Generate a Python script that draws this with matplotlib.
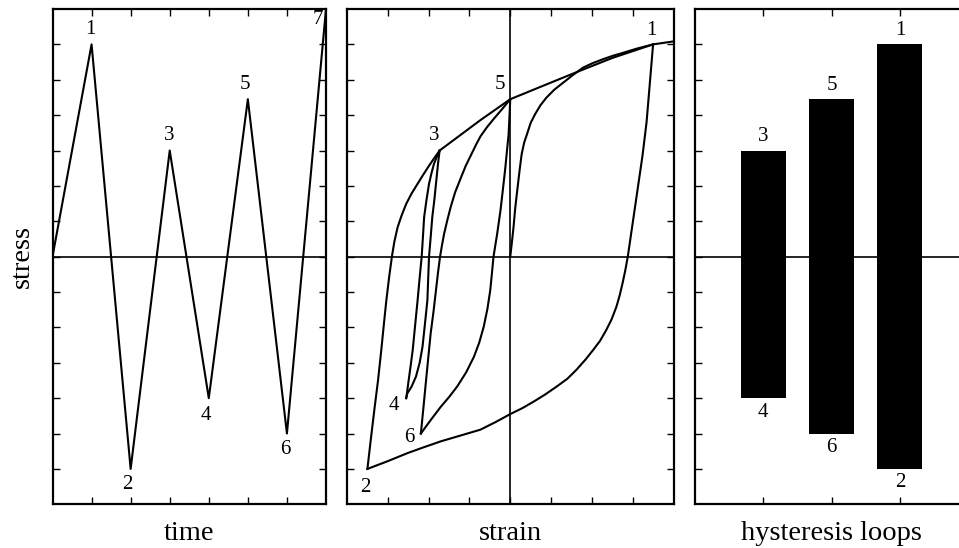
import matplotlib
matplotlib.use("Agg")
import matplotlib.pyplot as plt

plt.rcParams['font.family'] = ['Liberation Serif', 'DejaVu Serif']

# --- panel 1: stress history ---
time_pts = [0, 1, 2, 3, 4, 5, 6, 7]
stress_pts = [0, 6, -6, 3, -4, 4.45, -5, 7]
time_labels = ['', '1', '2', '3', '4', '5', '6', '7']

# --- panel 2: stress-strain branches ---
skel_strain = [0, 0.04, 0.08, 0.12, 0.18, 0.23, 0.28, 0.34, 0.41, 0.50, 0.61, 0.74, 0.89,
               1.08, 1.30, 1.52, 1.78, 2.02, 2.27, 2.52, 2.76, 3.10, 3.50, 3.98]
skel_stress = [0, 0.40, 0.83, 1.35, 1.96, 2.45, 2.90, 3.22, 3.46, 3.78, 4.03, 4.28, 4.50,
               4.72, 4.92, 5.12, 5.34, 5.47, 5.58, 5.68, 5.76, 5.88, 6.0, 6.08]

d12_strain = [3.50, 3.42, 3.34, 3.24, 3.12, 3.00, 2.88, 2.82, 2.75, 2.68, 2.60, 2.48, 2.35,
              2.20, 2.03, 1.85, 1.62, 1.40, 1.14, 0.85, 0.57, 0.30, 0.0, -0.35, -0.73,
              -1.20, -1.70, -2.10, -2.51, -3.00, -3.50]
d12_stress = [6.0, 4.9, 3.8, 2.85, 1.9, 0.95, 0.0, -0.38, -0.76, -1.10, -1.42, -1.78, -2.08,
              -2.38, -2.64, -2.90, -3.20, -3.45, -3.67, -3.90, -4.10, -4.28, -4.45, -4.67,
              -4.89, -5.05, -5.22, -5.38, -5.55, -5.78, -6.0]

a23_strain = [-3.50, -3.42, -3.33, -3.24, -3.16, -3.10, -3.04, -2.97, -2.90, -2.84, -2.76,
              -2.66, -2.55, -2.42, -2.27, -2.13, -1.99, -1.86, -1.73]
a23_stress = [-6.0, -5.2, -4.33, -3.5, -2.64, -1.95, -1.28, -0.6, 0.0, 0.42, 0.83,
              1.17, 1.49, 1.78, 2.06, 2.32, 2.57, 2.79, 3.0]

env_strain = [-1.73, -1.30, -0.73, 0.0, 0.89, 1.70, 2.51, 3.50]
env_stress = [3.0, 3.37, 3.86, 4.45, 4.87, 5.25, 5.62, 6.0]

d34_strain = [-1.73, -1.75, -1.77, -1.82, -1.86, -1.91, -1.95, -1.99, -2.01, -2.03, -2.09,
              -2.15, -2.22, -2.31, -2.42, -2.52, -2.55]
d34_stress = [3.0, 2.82, 2.62, 2.06, 1.6, 1.12, 0.55, 0.0, -0.6, -1.23, -1.9,
              -2.55, -3.0, -3.39, -3.68, -3.86, -4.0]

a43_strain = [-2.55, -2.53, -2.49, -2.44, -2.39, -2.33, -2.27, -2.22, -2.17, -2.14, -2.11,
              -2.05, -1.99, -1.93, -1.87, -1.80, -1.73]
a43_stress = [-4.0, -3.85, -3.5, -3.08, -2.64, -1.93, -1.23, -0.6, 0.0, 0.55, 1.12,
              1.62, 2.06, 2.36, 2.62, 2.82, 3.0]

d56_strain = [0.0, -0.02, -0.04, -0.08, -0.12, -0.18, -0.24, -0.32, -0.41, -0.45, -0.49,
              -0.56, -0.65, -0.76, -0.89, -1.08, -1.30, -1.50, -1.70, -1.95, -2.19]
d56_stress = [4.45, 3.95, 3.46, 3.0, 2.52, 1.9, 1.30, 0.65, 0.0, -0.48, -0.95,
              -1.48, -1.98, -2.43, -2.83, -3.27, -3.67, -3.97, -4.24, -4.62, -5.0]

a65_strain = [-2.19, -2.13, -2.07, -2.01, -1.95, -1.88, -1.82, -1.77, -1.72, -1.67, -1.62,
              -1.54, -1.46, -1.35, -1.22, -1.09, -0.95, -0.84, -0.73, -0.57, -0.40, -0.20, 0.0]
a65_stress = [-5.0, -4.3, -3.58, -2.87, -2.17, -1.55, -0.95, -0.45, 0.0, 0.34, 0.65,
              1.04, 1.40, 1.82, 2.20, 2.57, 2.90, 3.16, 3.40, 3.66, 3.90, 4.17, 4.45]

turn_strain = [3.50, -3.50, -1.73, -2.55, 0.0, -2.19]
turn_stress = [6.0, -6.0, 3.0, -4.0, 4.45, -5.0]
turn_labels = ['1', '2', '3', '4', '5', '6']

# --- panel 3: hysteresis loop ranges ---
loop_pos = [1, 2, 3]
loop_top = [3, 4.45, 6]
loop_bottom = [-4, -5, -6]
top_labels = ['3', '5', '1']
bottom_labels = ['4', '6', '2']

# label offsets in pixels (style, not data)
p1_offsets = [(0, 0), (-1, 15), (-3, -16), (-1, 15), (-3, -17), (-3, 15), (-2, -16), (-8, -11)]
p2_offsets = [(-2, 14), (-2, -19), (-5, 15), (-12, -7), (-10, 15), (-12, -4)]

LW = 1.5
NUM_SIZE = 15
LABEL_SIZE = 20.5


def style_axes(ax, xticks):
    ax.set_ylim(-7, 7)
    ax.set_yticks(range(-6, 7))
    ax.set_xticks(xticks)
    ax.tick_params(direction='in', top=True, right=True, length=5, width=1,
                   labelbottom=False, labelleft=False)
    for sp in ax.spines.values():
        sp.set_linewidth(1.6)
    ax.axhline(0, color='black', lw=1.2)


def label(ax, x, y, text, off):
    ax.annotate(text, (x, y), xytext=off, textcoords='offset pixels',
                ha='center', va='center', fontsize=NUM_SIZE)


def main():
    fig = plt.figure(figsize=(9.59, 5.48), dpi=100)
    bottom = 1 - 504.3 / 548
    height = (504.3 - 9) / 548

    # panel 1
    ax1 = fig.add_axes([52.5 / 959, bottom, 273.5 / 959, height])
    ax1.plot(time_pts, stress_pts, color='black', lw=LW)
    ax1.set_xlim(0, 7)
    style_axes(ax1, range(1, 7))
    for i in range(1, len(time_pts)):
        label(ax1, time_pts[i], stress_pts[i], time_labels[i], p1_offsets[i])
    ax1.set_xlabel('time', fontsize=LABEL_SIZE, labelpad=12)
    fig.text(22 / 959, 1 - 256 / 548, 'stress', rotation=90,
             ha='center', va='center', fontsize=LABEL_SIZE)

    # panel 2
    ax2 = fig.add_axes([347 / 959, bottom, 326.5 / 959, height])
    branches = [(skel_strain, skel_stress), (d12_strain, d12_stress),
                (a23_strain, a23_stress), (env_strain, env_stress),
                (d34_strain, d34_stress), (a43_strain, a43_stress),
                (d56_strain, d56_stress), (a65_strain, a65_stress)]
    for xs, ys in branches:
        ax2.plot(xs, ys, color='black', lw=LW)
    ax2.set_xlim(-4, 4)
    style_axes(ax2, range(-3, 4))
    ax2.axvline(0, color='black', lw=1.2)
    for i in range(len(turn_labels)):
        label(ax2, turn_strain[i], turn_stress[i], turn_labels[i], p2_offsets[i])
    ax2.set_xlabel('strain', fontsize=LABEL_SIZE, labelpad=12)

    # panel 3 (right edge runs past the figure)
    ax3 = fig.add_axes([695 / 959, bottom, 273.2 / 959, height])
    heights = [t - b for t, b in zip(loop_top, loop_bottom)]
    ax3.bar(loop_pos, heights, bottom=loop_bottom, width=0.66, color='black')
    ax3.set_xlim(0, 4)
    style_axes(ax3, loop_pos)
    for i in range(len(loop_pos)):
        label(ax3, loop_pos[i], loop_top[i], top_labels[i], (0, 14))
        label(ax3, loop_pos[i], loop_bottom[i], bottom_labels[i], (0, -14))
    ax3.set_xlabel('hysteresis loops', fontsize=LABEL_SIZE, labelpad=12)

    fig.savefig('out.png', dpi=100)


main()
